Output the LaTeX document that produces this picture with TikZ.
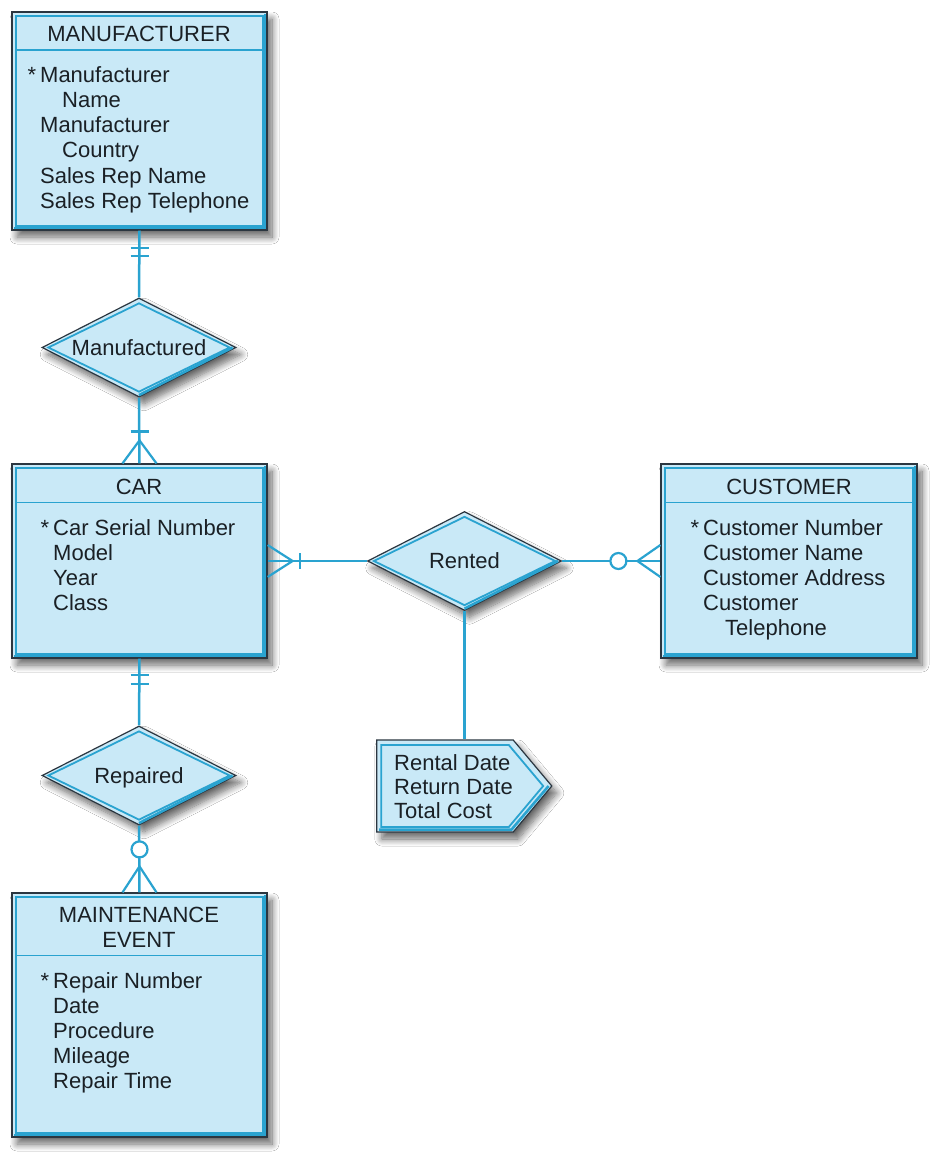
\documentclass[tikz,border=0pt]{standalone}
\usepackage{fontspec}
\setmainfont{Liberation Sans}
\usetikzlibrary{shapes.geometric,shapes.symbols,shadows.blur,calc}
\definecolor{lb}{HTML}{C9E9F7}
\definecolor{ln}{HTML}{2AA3D0}
\definecolor{dk}{HTML}{2B3640}
\definecolor{tx}{HTML}{1A2025}
\newcommand{\entinner}[2]{%
  \draw[ln, line width=1.8pt] ([shift={(4.5,4.5)}]#1.north west) rectangle ([shift={(-4.5,-4.5)}]#1.south east);
  \draw[ln, line width=2.6pt] ([shift={(2.5,-2.5)}]#1.south west) -- ([shift={(-2.5,-2.5)}]#1.south east) -- ([shift={(-2.5,2.5)}]#1.north east);
  \draw[ln, line width=1.5pt] ([shift={(4.5,#2)}]#1.north west) -- ([shift={(-4.5,#2)}]#1.north east);
}
\begin{document}
\begin{tikzpicture}[x=1pt,y=-1pt,
  shad/.style={blur shadow={shadow xshift=5pt, shadow yshift=-7pt, shadow blur steps=10, shadow blur radius=7pt, shadow opacity=60}},
  ent/.style={rectangle, draw=dk, line width=1.2pt, fill=lb, minimum width=255pt, inner sep=0pt, shad},
  dia/.style={diamond, aspect=2, draw=dk, line width=1.2pt, fill=lb, minimum width=194pt, minimum height=99pt, inner sep=0pt, font=\fontsize{22}{25}\selectfont, text=tx, text height=15.8pt, text depth=0pt, shad},
  diain/.style={diamond, aspect=2, draw=ln, line width=1.8pt, minimum width=182pt, minimum height=89pt, inner sep=0pt},
  sig/.style={signal, signal to=east, signal from=nowhere, signal pointer angle=100, draw=dk, line width=1.2pt, fill=lb, minimum width=175pt, minimum height=92pt, inner sep=0pt, shad},
  sigin/.style={signal, signal to=east, signal from=nowhere, signal pointer angle=100, draw=ln, line width=1.8pt, minimum width=162pt, minimum height=82pt, inner sep=0pt},
  txt/.style={font=\fontsize{22}{25}\selectfont, text=tx, inner sep=0pt, anchor=base west},
  hdr/.style={font=\fontsize{22}{25}\selectfont, text=tx, inner sep=0pt, anchor=base},
  conn/.style={draw=ln, line width=2.5pt},
  foot/.style={draw=ln, line width=2.2pt},
  circ/.style={circle, draw=ln, fill=white, line width=2.2pt, minimum size=16pt, inner sep=0pt}
]
\fill[white] (0,0) rectangle (942,1161);
\useasboundingbox (0,0) rectangle (942,1161);

% entities
\node[ent, minimum height=218pt] (mfr) at (139.5,121) {};
\entinner{mfr}{38.5}
\node[ent, minimum height=194pt] (car) at (139.5,561) {};
\entinner{car}{39}
\node[ent, minimum width=256pt, minimum height=194pt] (cus) at (789,561) {};
\entinner{cus}{39}
\node[ent, minimum height=244pt] (mnt) at (139.5,1015) {};
\entinner{mnt}{63}

% manufacturer text
\node[hdr] (mfrh) at (139,42) {MANUFACTURER};
\node[txt] (m1) at (40,83) {\llap{*\hspace{4pt}}Manufacturer};
\node[txt] (m2) at (62,108) {Name};
\node[txt] (m3) at (40,133) {Manufacturer};
\node[txt] (m4) at (62,158) {Country};
\node[txt] (m5) at (40,183) {Sales Rep Name};
\node[txt] (m6) at (40,208) {Sales Rep Telephone};

% car text
\node[hdr] (carh) at (139,494) {CAR};
\node[txt] (c1) at (53,535) {\llap{*\hspace{4pt}}Car Serial Number};
\node[txt] (c2) at (53,560) {Model};
\node[txt] (c3) at (53,585) {Year};
\node[txt] (c4) at (53,610) {Class};

% customer text
\node[hdr] (cush) at (789,494) {CUSTOMER};
\node[txt] (u1) at (703,535) {\llap{*\hspace{4pt}}Customer Number};
\node[txt] (u2) at (703,560) {Customer Name};
\node[txt] (u3) at (703,585) {Customer Address};
\node[txt] (u4) at (703,610) {Customer};
\node[txt] (u5) at (725,635) {Telephone};

% maintenance text
\node[hdr] (mnth1) at (139,922) {MAINTENANCE};
\node[hdr] (mnth2) at (139,947) {EVENT};
\node[txt] (r1) at (53,988) {\llap{*\hspace{4pt}}Repair Number};
\node[txt] (r2) at (53,1013) {Date};
\node[txt] (r3) at (53,1038) {Procedure};
\node[txt] (r4) at (53,1063) {Mileage};
\node[txt] (r5) at (53,1088) {Repair Time};

% relationships
\node[dia] (mfd) at (139,347.5) {Manufactured};
\node[diain] (mfdi) at (139,347.5) {};
\draw[ln, line width=2.6pt] ([shift={(-4,0)}]mfd.east) -- ([shift={(0,-2.5)}]mfd.south);
\node[dia] (rnt) at (464.5,561) {Rented};
\node[diain] (rnti) at (464.5,561) {};
\draw[ln, line width=2.6pt] ([shift={(-4,0)}]rnt.east) -- ([shift={(0,-2.5)}]rnt.south);
\node[dia] (rep) at (139,775.5) {Repaired};
\node[diain] (repi) at (139,775.5) {};
\draw[ln, line width=2.6pt] ([shift={(-4,0)}]rep.east) -- ([shift={(0,-2.5)}]rep.south);

% associative attributes
\node[sig] (att) at (445,786) {};
\node[sigin] (atti) at (445,786) {};
\draw[ln, line width=2.6pt] ([shift={(-4,0)}]att.east) -- ([shift={(-2,-3)}]att.south east) -- ([shift={(3,-3)}]att.south west);
\node[txt] (a1) at (394,770) {Rental Date};
\node[txt] (a2) at (394,794) {Return Date};
\node[txt] (a3) at (394,818) {Total Cost};

% connectors
\draw[conn] (mfr.south) -- (mfd.north);
\draw[foot] ([shift={(-9,17)}]mfr.south) -- ([shift={(9,17)}]mfr.south);
\draw[foot] ([shift={(-9,25)}]mfr.south) -- ([shift={(9,25)}]mfr.south);

\draw[conn] (mfd.south) -- (car.north);
\draw[foot] ([shift={(-9,-32)}]car.north) -- ([shift={(9,-32)}]car.north);
\draw[foot] ([shift={(-17,0)}]car.north) -- ([shift={(0,-23)}]car.north) -- ([shift={(17,0)}]car.north);

\draw[conn] (car.east) -- (rnt.west);
\draw[foot] ([shift={(0,-16)}]car.east) -- ([shift={(25,0)}]car.east) -- ([shift={(0,16)}]car.east);
\draw[foot] ([shift={(32,-8)}]car.east) -- ([shift={(32,8)}]car.east);

\draw[conn] (rnt.east) -- (cus.west);
\node[circ] (cc) at ([shift={(-42,0)}]cus.west) {};
\draw[foot] ([shift={(0,-16)}]cus.west) -- ([shift={(-23,0)}]cus.west) -- ([shift={(0,16)}]cus.west);

\draw[conn] (rnt.south) -- (rnt.south |- att.north);

\draw[conn] (car.south) -- (rep.north);
\draw[foot] ([shift={(-9,16)}]car.south) -- ([shift={(9,16)}]car.south);
\draw[foot] ([shift={(-9,25)}]car.south) -- ([shift={(9,25)}]car.south);

\draw[conn] (rep.south) -- (mnt.north);
\node[circ] (mc) at ([shift={(0,-43)}]mnt.north) {};
\draw[foot] ([shift={(-17,0)}]mnt.north) -- ([shift={(0,-26)}]mnt.north) -- ([shift={(17,0)}]mnt.north);
\end{tikzpicture}
\end{document}
